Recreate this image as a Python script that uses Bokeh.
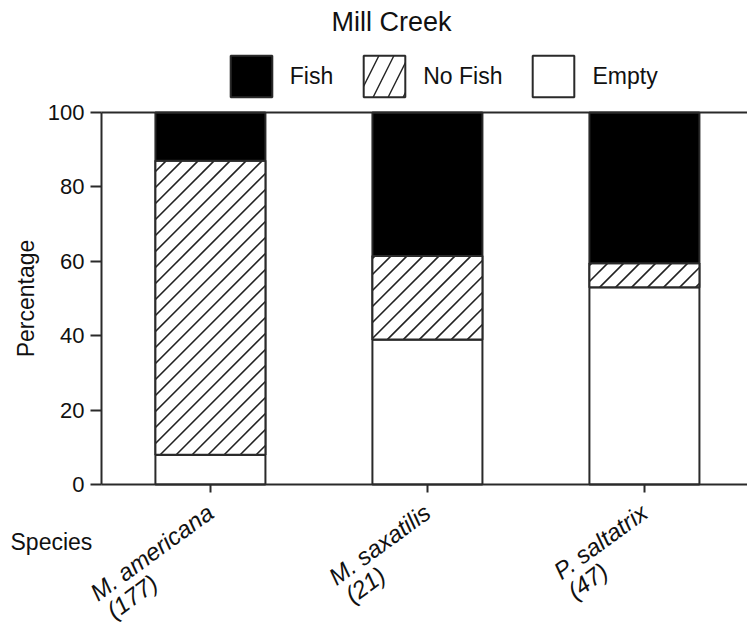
from bokeh.plotting import figure
from bokeh.models import (Range1d, FixedTicker, Legend, LegendItem, Label, LinearAxis,
                          ColumnDataSource)
from bokeh.embed import file_html
from bokeh.resources import INLINE

# ---- data ----
species = ["M. americana", "M. saxatilis", "P. saltatrix"]
counts = ["(177)", "(21)", "(47)"]
empty = [8.0, 39.0, 53.0]
no_fish = [79.0, 22.4, 6.5]
fish = [13.0, 38.6, 40.5]
y_ticks = [0, 20, 40, 60, 80, 100]
title_text = "Mill Creek"
x_title = "Species"
y_title = "Percentage"
series_names = ["Fish", "No Fish", "Empty"]

FONT = "Liberation Sans"
DARK = "#2a2a2a"
TXT = "#111111"

# plotting area (data units) and the full canvas extent around it
X_LO, X_HI = -0.502, 2.475
Y_LO, Y_HI = 0, 100
CANVAS_X = (-0.9674, 2.475)
CANVAS_Y = (-38.17, 130.1)
WIDTH, HEIGHT = 747, 626
W = 0.507
HATCH_PX = 16  # hatch spacing in pixels

xs = list(range(len(species)))
t1 = list(empty)
t2 = [a + b for a, b in zip(t1, no_fish)]
t3 = [a + b for a, b in zip(t2, fish)]
src = ColumnDataSource(dict(x=xs, b1=[0.0] * len(xs), t1=t1, b2=t1, t2=t2, b3=t2, t3=t3))

# 45-degree "/" hatch lines inside each "No Fish" segment (derived from the data above)
kx = WIDTH / (CANVAS_X[1] - CANVAS_X[0])
ky = HEIGHT / (CANVAS_Y[1] - CANVAS_Y[0])
hx0, hy0, hx1, hy1 = [], [], [], []
for xc, lo, hi in zip(xs, t1, t2):
    X0, X1 = (xc - W / 2) * kx, (xc + W / 2) * kx
    Y0, Y1 = lo * ky, hi * ky
    k = int((Y0 - X1) // HATCH_PX)
    while k * HATCH_PX <= Y1 - X0:
        c = k * HATCH_PX
        a = max(X0, Y0 - c)
        b = min(X1, Y1 - c)
        if b - a > 0.5:
            hx0.append(a / kx); hy0.append((a + c) / ky)
            hx1.append(b / kx); hy1.append((b + c) / ky)
        k += 1
hsrc = ColumnDataSource(dict(x0=hx0, y0=hy0, x1=hx1, y1=hy1))

p = figure(width=WIDTH, height=HEIGHT, output_backend="svg", toolbar_location=None,
           x_range=Range1d(*CANVAS_X), y_range=Range1d(*CANVAS_Y),
           min_border=0, min_border_left=0, min_border_right=0,
           min_border_top=0, min_border_bottom=0, title=None,
           x_axis_type=None, y_axis_type=None)
p.grid.visible = False
p.outline_line_color = None
p.background_fill_color = "white"
p.border_fill_color = "white"

r_empty = p.vbar(x="x", bottom="b1", top="t1", width=W, source=src,
                 fill_color="white", line_color=DARK, line_width=2)
# "No Fish" bars: this renderer also provides the hatched legend swatch
r_nofish = p.vbar(x="x", bottom="b2", top="t2", width=W, source=src,
                  fill_color="white", line_color=DARK, line_width=2,
                  hatch_pattern="/", hatch_scale=30, hatch_weight=1.4,
                  hatch_color="#222222")
p.vbar(x="x", bottom="b2", top="t2", width=W, source=src,
       fill_color="white", line_color=None)
p.segment(x0="x0", y0="y0", x1="x1", y1="y1", source=hsrc,
          line_color="#222222", line_width=1.6)
p.vbar(x="x", bottom="b2", top="t2", width=W, source=src,
       fill_color=None, line_color=DARK, line_width=2)
r_fish = p.vbar(x="x", bottom="b3", top="t3", width=W, source=src,
                fill_color="black", line_color=DARK, line_width=2)

# y axis
ya = LinearAxis(fixed_location=X_LO, bounds=(Y_LO, Y_HI), ticker=FixedTicker(ticks=y_ticks))
ya.axis_label = y_title
ya.axis_label_text_font = FONT
ya.axis_label_text_font_size = "23px"
ya.axis_label_text_font_style = "normal"
ya.axis_label_text_color = TXT
ya.axis_label_standoff = 6
ya.major_label_text_font = FONT
ya.major_label_text_font_size = "22px"
ya.major_label_text_color = TXT
ya.major_label_standoff = 6
ya.major_tick_in = 0
ya.major_tick_out = 11
ya.minor_tick_in = 0
ya.minor_tick_out = 0
ya.axis_line_width = 2
ya.axis_line_color = DARK
ya.major_tick_line_width = 2
ya.major_tick_line_color = DARK
p.add_layout(ya, "left")

# x axis (two-line labels; second line padded so both lines start together)
xa = LinearAxis(fixed_location=Y_LO, bounds=(X_LO, X_HI), ticker=FixedTicker(ticks=xs))
pads = [13, 11, 10]
xa.major_label_overrides = {i: f"\n{s}\n{c}" + "\u00a0" * n
                            for i, (s, c, n) in enumerate(zip(species, counts, pads))}
xa.major_label_orientation = 0.63
xa.major_label_text_font = FONT
xa.major_label_text_font_size = "24px"
xa.major_label_text_font_style = "italic"
xa.major_label_text_color = TXT
xa.major_label_text_line_height = 0.9
xa.major_label_standoff = 17
xa.major_tick_in = 0
xa.major_tick_out = 8
xa.minor_tick_in = 0
xa.minor_tick_out = 0
xa.axis_line_width = 2
xa.axis_line_color = DARK
xa.major_tick_line_width = 2
xa.major_tick_line_color = DARK
p.add_layout(xa, "below")

# top border line of the plotting area
ta = LinearAxis(fixed_location=Y_HI, bounds=(X_LO, X_HI), ticker=FixedTicker(ticks=[]))
ta.major_label_text_font_size = "0px"
ta.major_tick_in = 0
ta.major_tick_out = 0
ta.minor_tick_in = 0
ta.minor_tick_out = 0
ta.axis_line_width = 2
ta.axis_line_color = DARK
p.add_layout(ta, "above")

# title and x-axis title
p.add_layout(Label(x=391, y=605, x_units="screen", y_units="screen", text=title_text,
                   text_font=FONT, text_font_size="27px", text_color=TXT,
                   text_align="center", text_baseline="middle"))
p.add_layout(Label(x=10, y=85, x_units="screen", y_units="screen", text=x_title,
                   text_font=FONT, text_font_size="23px", text_color=TXT,
                   text_align="left", text_baseline="middle"))

legend = Legend(items=[LegendItem(label=series_names[0], renderers=[r_fish]),
                       LegendItem(label=series_names[1], renderers=[r_nofish]),
                       LegendItem(label=series_names[2], renderers=[r_empty])],
                orientation="horizontal", location=(224.75, 523.75),
                glyph_width=52, glyph_height=52, label_standoff=13, spacing=25,
                padding=0, margin=0, border_line_color=None, background_fill_alpha=0,
                label_text_font=FONT, label_text_font_size="23px", label_text_color=TXT,
                label_height=52)
p.add_layout(legend, "center")

open("out.html", "w").write(file_html(p, INLINE))
